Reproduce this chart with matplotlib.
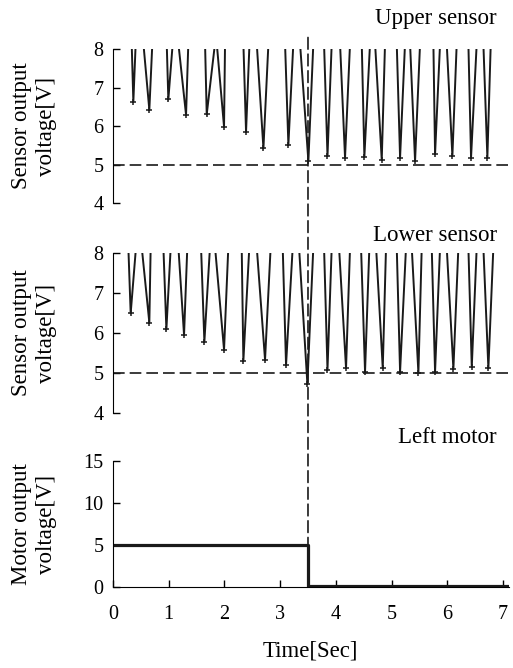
"""
Sensor / motor output traces (three stacked panels) -> out.png
"""

import numpy as np
import matplotlib.pyplot as plt
from matplotlib.patches import ConnectionPatch

plt.rcParams["font.family"] = ["Liberation Serif", "DejaVu Serif"]

# ---------------- DATA ----------------
# each dip: time leaving the top, time of the bottom, bottom voltage, time back at the top
upper_left = [0.335, 0.545, 0.964, 1.173, 1.652, 1.862, 2.34, 2.58, 3.088, 3.357,
              3.788, 4.075, 4.465, 4.704, 5.093, 5.332, 5.751, 5.99, 6.379, 6.648]
upper_bot_t = [0.365, 0.652, 0.993, 1.311, 1.682, 1.993, 2.388, 2.70, 3.148, 3.507,
               3.85, 4.165, 4.512, 4.824, 5.153, 5.422, 5.781, 6.092, 6.427, 6.72]
upper_bot_v = [6.63, 6.42, 6.69, 6.29, 6.30, 5.98, 5.85, 5.42, 5.51, 5.09,
               5.22, 5.18, 5.20, 5.12, 5.18, 5.09, 5.27, 5.22, 5.18, 5.18]
upper_right = [0.407, 0.706, 1.072, 1.352, 1.831, 2.011, 2.45, 2.79, 3.237, 3.596,
               3.926, 4.255, 4.614, 4.883, 5.242, 5.512, 5.871, 6.17, 6.529, 6.781]

lower_left = [0.275, 0.515, 0.904, 1.173, 1.58, 1.831, 2.31, 2.58, 3.046, 3.339,
              3.788, 4.057, 4.452, 4.722, 5.093, 5.362, 5.721, 5.99, 6.379, 6.648]
lower_bot_t = [0.317, 0.652, 0.958, 1.275, 1.64, 1.993, 2.34, 2.729, 3.106, 3.489,
               3.85, 4.183, 4.524, 4.842, 5.153, 5.482, 5.781, 6.11, 6.44, 6.738]
lower_bot_v = [6.49, 6.26, 6.09, 5.95, 5.78, 5.58, 5.30, 5.33, 5.20, 4.73,
               5.08, 5.12, 5.03, 5.12, 5.03, 5.00, 5.03, 5.10, 5.15, 5.12]
lower_right = [0.413, 0.676, 1.036, 1.334, 1.741, 2.07, 2.447, 2.83, 3.226, 3.596,
               3.926, 4.255, 4.602, 4.901, 5.26, 5.542, 5.871, 6.2, 6.529, 6.828]

SAT = 8.15         # sensor output just off the top of the scale between dips
THRESHOLD = 5.0    # dashed threshold line
SWITCH_T = 3.5     # time the motor is switched off

motor_t = [0.0, 3.5, 3.5, 7.1]
motor_v = [4.95, 4.95, 0.15, 0.15]

X_LIM = (0, 7.1)
X_TICKS = [0, 1, 2, 3, 4, 5, 6, 7]
# ---------------------------------------


def dip_trace(left, bot_t, bot_v, right):
    t, v = [], []
    for a, b, c, d in zip(left, bot_t, bot_v, right):
        t += [a, b, d]
        v += [SAT, c, SAT]
    return np.array(t), np.array(v)


def style_axis(ax, show_x):
    ax.spines["top"].set_visible(False)
    ax.spines["right"].set_visible(False)
    if not show_x:
        ax.spines["bottom"].set_visible(False)
        ax.set_xticks([])
    ax.tick_params(direction="in", length=5, width=1, labelsize=14.5, pad=7)
    ax.set_xlim(*X_LIM)


fig = plt.figure(figsize=(5.13, 6.68), dpi=100)
L, W = 0.2203, 0.771
ax1 = fig.add_axes([L, 0.696, W, 0.2306])
ax2 = fig.add_axes([L, 0.3817, W, 0.2396])
ax3 = fig.add_axes([L, 0.1213, W, 0.1886])

line_kw = dict(color="#1a1a1a", lw=1.4, marker="+", ms=5, mew=1.1)
dash_kw = dict(color="#1a1a1a", lw=1.2, ls=(0, (7, 3)))

for ax, data, name, ny in [
    (ax1, (upper_left, upper_bot_t, upper_bot_v, upper_right), "Upper sensor", 1.2),
    (ax2, (lower_left, lower_bot_t, lower_bot_v, lower_right), "Lower sensor", 1.11),
]:
    t, v = dip_trace(*data)
    ax.plot(t, v, **line_kw)
    ax.axhline(THRESHOLD, **dash_kw)
    ax.set_ylim(4, 8)
    ax.set_yticks([4, 5, 6, 7, 8])
    style_axis(ax, show_x=False)
    ax.text(0.971, ny, name, transform=ax.transAxes, ha="right", va="center", fontsize=16.5)
    ax.text(-0.201, 0.5, "Sensor output\nvoltage[V]", transform=ax.transAxes,
            rotation=90, ha="center", va="center", fontsize=16.5, linespacing=1.25)

ax3.plot(motor_t, motor_v, color="#1a1a1a", lw=2.3)
ax3.set_ylim(0, 15)
ax3.set_yticks([0, 5, 10, 15])
ax3.set_xticks(X_TICKS)
style_axis(ax3, show_x=True)
ax3.tick_params(axis="x", pad=13)
ax3.set_xlabel("Time[Sec]", fontsize=16.5, labelpad=12)
ax3.text(0.971, 1.19, "Left motor", transform=ax3.transAxes, ha="right", va="center", fontsize=16.5)
ax3.text(-0.201, 0.5, "Motor output\nvoltage[V]", transform=ax3.transAxes,
         rotation=90, ha="center", va="center", fontsize=16.5, linespacing=1.25)

# switch-off marker running through all three panels
con = ConnectionPatch(xyA=(SWITCH_T, 8.3), coordsA=ax1.transData,
                      xyB=(SWITCH_T, 0), coordsB=ax3.transData, **dash_kw)
fig.add_artist(con)

fig.savefig("out.png", dpi=100)
